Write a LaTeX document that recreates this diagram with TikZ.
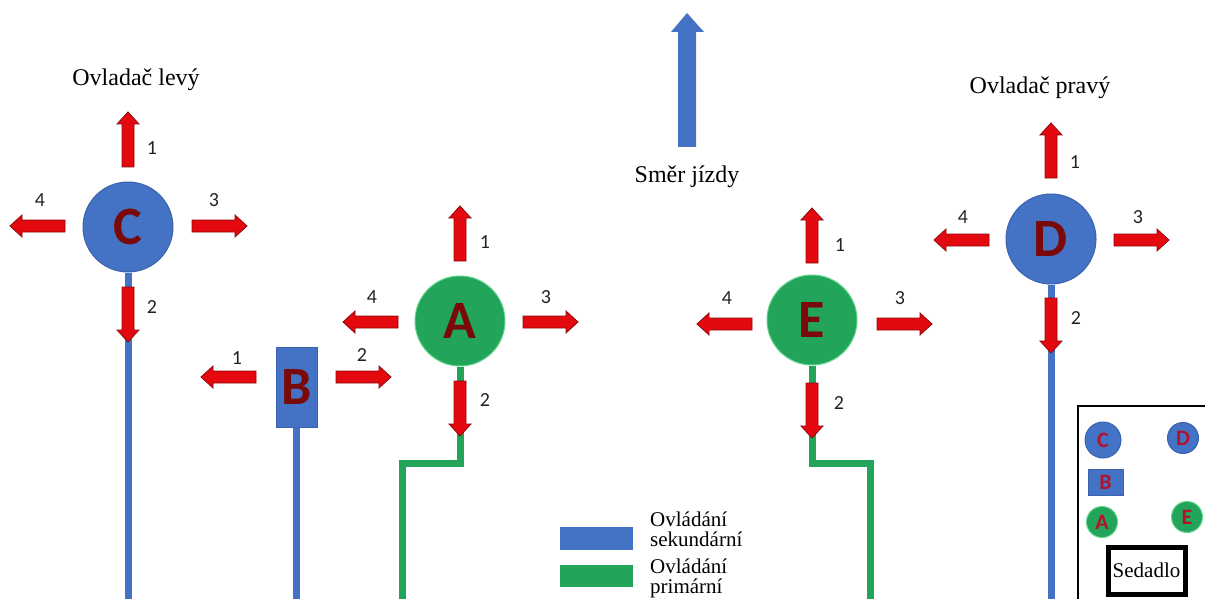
\documentclass[tikz,border=0pt]{standalone}
\usepackage{fontspec}
\setmainfont{Liberation Serif}
\newfontfamily\calib{Carlito}
\definecolor{secblue}{HTML}{4472C4}
\definecolor{secedge}{HTML}{3A62AE}
\definecolor{prigreen}{HTML}{22A45A}
\definecolor{priedge}{HTML}{5FD58C}
\definecolor{pushred}{HTML}{E4080F}
\definecolor{pushedge}{HTML}{8E0A0A}
\definecolor{letterred}{HTML}{7A0A0A}
\definecolor{miniletter}{HTML}{B3122E}
\definecolor{numgray}{HTML}{222222}

% red block arrow: base point, direction angle
\newcommand\pusharrow[2]{%
  \begin{scope}[shift={(#1)},rotate=#2]
    \filldraw[movearrow] (0,-6) -- (43,-6) -- (43,-11) -- (55,0)
      -- (43,11) -- (43,6) -- (0,6) -- cycle;
  \end{scope}}

\tikzset{
  ctrl/.style={circle, minimum size=90pt, inner sep=0pt,
    font=\calib\bfseries\fontsize{54}{54}\selectfont, text=letterred},
  sec/.style={fill=secblue, draw=secedge, line width=1pt},
  pri/.style={fill=prigreen, draw=priedge, line width=1pt},
  secline/.style={draw=secblue, line width=7pt},
  priline/.style={draw=prigreen, line width=7pt, line join=miter},
  movearrow/.style={fill=pushred, draw=pushedge, line width=0.8pt, line join=miter},
  num/.style={font=\calib\fontsize{20}{20}\selectfont, text=numgray, inner sep=0pt},
  title/.style={font=\fontsize{24}{28}\selectfont, inner sep=0pt},
  legendtext/.style={font=\fontsize{21}{19.5}\selectfont, align=left, inner sep=0pt, anchor=north west},
  mini/.style={circle, inner sep=0pt, font=\calib\bfseries\fontsize{22}{22}\selectfont, text=miniletter},
}

\begin{document}
\begin{tikzpicture}[x=1pt,y=-1pt]
\useasboundingbox (0,0) rectangle (1205,599);

% direction of travel
\fill[secblue] (678,147) -- (678,32) -- (671,32) -- (687,13) -- (704,32)
  -- (696,32) -- (696,147) -- cycle;
\node[title] (dir) at (687,177) {Směr jízdy};

% controls
\node[ctrl, sec] (C) at (128,227) {C};
\node[ctrl, sec] (D) at (1051,239) {D};
\node[ctrl, pri] (A) at (460,321) {A};
\node[ctrl, pri] (E) at (812,320) {E};
\node[rectangle, fill=secblue, draw=secedge, line width=1pt, minimum width=41pt,
  minimum height=80pt, inner sep=0pt, font=\calib\bfseries\fontsize{54}{54}\selectfont,
  text=letterred] (B) at (296.5,387) {B};

\node[title] (left) at (136,80) {Ovladač levý};
\node[title] (right) at (1040,88) {Ovladač pravý};

% control runs
\coordinate (Cend) at (128,610);
\coordinate (Bend) at (296.5,610);
\coordinate (Dend) at (1051,610);
\draw[secline] (C.south) -- (Cend);
\draw[secline] (B.south) -- (Bend);
\draw[secline] (D.south) -- (Dend);

\coordinate (A1) at (460,463);
\coordinate (A2) at (402,463);
\coordinate (Aend) at (402,610);
\draw[priline] (A.south) -- (A1) -- (A2) -- (Aend);
\coordinate (E1) at (812,463);
\coordinate (E2) at (870,463);
\coordinate (Eend) at (870,610);
\draw[priline] (E.south) -- (E1) -- (E2) -- (Eend);

% movement arrows
\pusharrow{128,167}{90}
\pusharrow{65,226}{180}
\pusharrow{192,226}{0}
\pusharrow{128,287}{-90}

\pusharrow{460,261}{90}
\pusharrow{398,322}{180}
\pusharrow{523,322}{0}
\pusharrow{460,381}{-90}

\pusharrow{256,377}{180}
\pusharrow{336,377}{0}

\pusharrow{812,263}{90}
\pusharrow{752,324}{180}
\pusharrow{877,324}{0}
\pusharrow{812,383}{-90}

\pusharrow{1051,178}{90}
\pusharrow{989,240}{180}
\pusharrow{1114,240}{0}
\pusharrow{1051,298}{-90}

% arrow numbers
\node[num] (c1) at (152,148) {1};
\node[num] (c4) at (40,200) {4};
\node[num] (c3) at (214,200) {3};
\node[num] (c2) at (152,307) {2};

\node[num] (a1) at (485,242) {1};
\node[num] (a4) at (372,297) {4};
\node[num] (a3) at (546,297) {3};
\node[num] (a2) at (485,400) {2};

\node[num] (b1) at (237,358) {1};
\node[num] (b2) at (362,355) {2};

\node[num] (e1) at (840,245) {1};
\node[num] (e4) at (727,298) {4};
\node[num] (e3) at (900,298) {3};
\node[num] (e2) at (839,403) {2};

\node[num] (d1) at (1075,162) {1};
\node[num] (d4) at (963,217) {4};
\node[num] (d3) at (1138,217) {3};
\node[num] (d2) at (1076,318) {2};

% legend
\node[fill=secblue, minimum width=73pt, minimum height=23pt, inner sep=0pt] (keysec) at (596.5,538.5) {};
\node[fill=prigreen, minimum width=73pt, minimum height=22pt, inner sep=0pt] (keypri) at (596.5,576) {};
\node[legendtext] (keysectext) at (650,512) {Ovládání\\sekundární};
\node[legendtext] (keypritext) at (650,559) {Ovládání\\primární};

% seat layout panel
\node[draw=black, line width=2pt, anchor=north west, minimum width=160pt,
  minimum height=220pt, inner sep=0pt] (panel) at (1077,405) {};
\node[mini, sec, minimum size=36pt] (mC) at (1103,440) {C};
\node[mini, sec, minimum size=31pt] (mD) at (1183,438) {D};
\node[rectangle, fill=secblue, draw=secedge, line width=1pt, minimum width=35pt,
  minimum height=26pt, inner sep=0pt, font=\calib\bfseries\fontsize{22}{22}\selectfont,
  text=miniletter] (mB) at (1105.5,482) {B};
\node[mini, pri, minimum size=31pt] (mA) at (1102,522) {A};
\node[mini, pri, minimum size=31pt] (mE) at (1187,517) {E};
\node[draw=black, line width=5pt, minimum width=77pt, minimum height=47pt,
  inner sep=0pt, font=\fontsize{21}{21}\selectfont] (seat) at (1146.5,570.5) {Sedadlo};
\end{tikzpicture}
\end{document}
